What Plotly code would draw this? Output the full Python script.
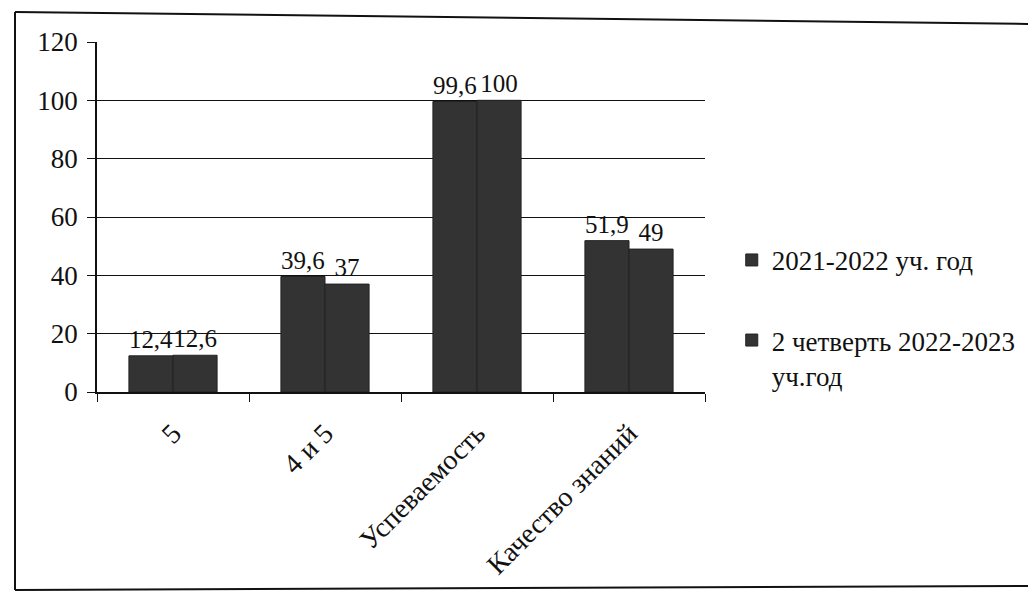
import plotly.graph_objects as go

categories = ["5", "4 и 5", "Успеваемость", "Качество знаний"]
series_names = ["2021-2022 уч. год", "2 четверть 2022-2023<br>уч.год"]
values_2021 = [12.4, 39.6, 99.6, 51.9]
values_2022 = [12.6, 37, 100, 49]
y_ticks = [0, 20, 40, 60, 80, 100, 120]

def fmt(v):
    s = ("%g" % v)
    return s.replace(".", ",")

FONT = "Liberation Serif, 'Times New Roman', 'DejaVu Serif', serif"
BAR = "#333333"

fig = go.Figure()
for i, (name, vals) in enumerate([(series_names[0], values_2021), (series_names[1], values_2022)]):
    fig.add_trace(go.Bar(
        x=categories, y=vals, name=name, legendgroup="g%d" % i,
        text=[fmt(v) for v in vals], textposition="outside",
        textfont=dict(family=FONT, size=25, color="#111"),
        cliponaxis=False,
        marker=dict(color=BAR, line=dict(color="#222", width=1)),
    ))

# page has an 8px body margin; plot area placed at x 97..705, y 42..392 on screen
fig.update_layout(
    width=1036, height=597,
    margin=dict(l=89, r=339, t=34, b=213),
    paper_bgcolor="white", plot_bgcolor="white",
    barmode="group", bargap=0.42, bargroupgap=0,
    font=dict(family=FONT, color="#111"),
    legend=dict(x=1.044, y=0.446, xanchor="left", yanchor="top", valign="top",
                font=dict(family=FONT, size=27, color="#111"),
                tracegroupgap=42, itemwidth=30, bgcolor="rgba(0,0,0,0)"),
    showlegend=True,
)
fig.update_xaxes(
    tickangle=-45, tickfont=dict(family=FONT, size=28, color="#111"),
    ticks="outside", tickson="boundaries", ticklen=8, tickcolor="#111",
    ticklabelstandoff=12,
    showline=True, linecolor="#111", linewidth=1.5, showgrid=False,
)
fig.update_yaxes(
    range=[0, 120], tickvals=y_ticks,
    tickfont=dict(family=FONT, size=27, color="#111"),
    ticks="outside", ticklen=8, tickcolor="#111", ticklabelstandoff=4,
    showline=True, linecolor="#111", linewidth=1.5,
    showgrid=True, gridcolor="#111", gridwidth=1.3, zeroline=False,
)

# outer chart frame (left, top, bottom edges; right edge is cut off in the scan)
def px(x):
    return (x - 97) / 608

def py(y):
    return (392 - y) / 350

frame = dict(color="#111", width=2)
fig.add_shape(type="line", xref="paper", yref="paper",
              x0=px(15), x1=px(15), y0=py(590), y1=py(12), line=frame)
fig.add_shape(type="line", xref="paper", yref="paper",
              x0=px(15), x1=px(1036), y0=py(12), y1=py(24), line=frame)
fig.add_shape(type="line", xref="paper", yref="paper",
              x0=px(15), x1=px(1036), y0=py(590), y1=py(586), line=frame)

fig.write_html("out.html")
